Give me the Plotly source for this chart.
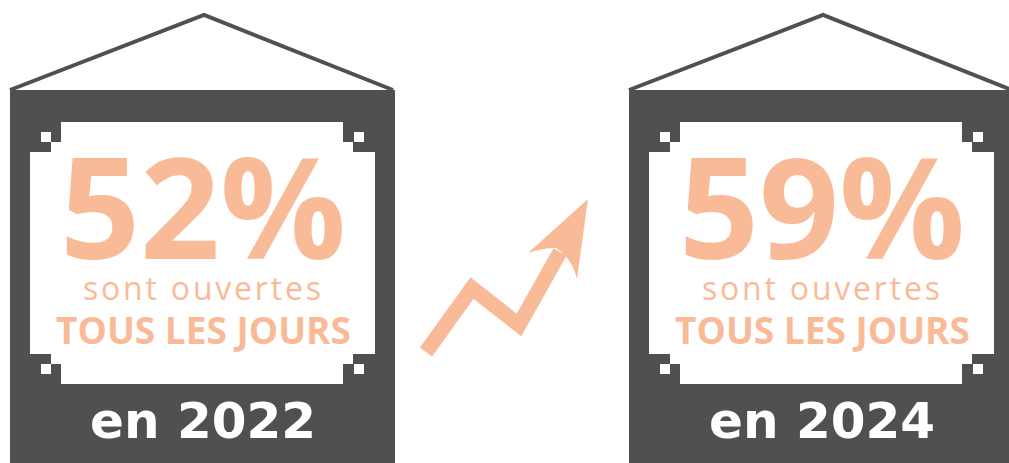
import plotly.graph_objects as go

# ---- data ----
years = [2022, 2024]
shares = [52, 59]
line1 = ["sont ouvertes", "sont ouvertes"]
line2 = ["TOUS LES JOURS", "TOUS LES JOURS"]
panel_left = [10, 629]

PEACH = "#F9BB97"
DARK = "#4F514E"

fig = go.Figure()
shapes = []
annotations = []

for L, yr, pct, t1, t2 in zip(panel_left, years, shares, line1, line2):
    # roof
    shapes.append(dict(type="path",
                       path=f"M {L} 90 L {L+194} 15 L {L+383} 90",
                       line=dict(color=DARK, width=4), fillcolor="rgba(0,0,0,0)"))
    # dark body
    shapes.append(dict(type="rect", x0=L, x1=L+385, y0=90, y1=470,
                       fillcolor=DARK, line=dict(width=0)))
    # inner white stepped panel
    p = (f"M {L+51} 122 L {L+333} 122 L {L+333} 142 L {L+343} 142 L {L+343} 152 "
         f"L {L+365} 152 L {L+365} 354 L {L+343} 354 L {L+343} 364 L {L+333} 364 "
         f"L {L+333} 384 L {L+51} 384 L {L+51} 364 L {L+41} 364 L {L+41} 354 "
         f"L {L+20} 354 L {L+20} 152 L {L+41} 152 L {L+41} 142 L {L+51} 142 Z")
    shapes.append(dict(type="path", path=p, fillcolor="white", line=dict(width=0)))
    # little corner squares
    for sx in (L+31, L+344):
        for sy in (132, 364):
            shapes.append(dict(type="rect", x0=sx, x1=sx+10, y0=sy, y1=sy+10,
                               fillcolor="white", line=dict(width=0)))
    cx = L + 193
    annotations.append(dict(x=cx, y=204, text=f"<b>{pct}%</b>", showarrow=False,
                            font=dict(family="Open Sans", size=140, color=PEACH),
                            xanchor="center", yanchor="middle"))
    annotations.append(dict(x=cx, y=287,
                            text=f"<span style='letter-spacing:2.8px'>{t1}</span>",
                            showarrow=False,
                            font=dict(family="Open Sans", size=32, color=PEACH),
                            xanchor="center", yanchor="middle"))
    annotations.append(dict(x=cx, y=329, text=f"<b>{t2}</b>", showarrow=False,
                            font=dict(family="Open Sans", size=37, color=PEACH),
                            xanchor="center", yanchor="middle"))
    annotations.append(dict(x=cx, y=421, text=f"<b>en {yr}</b>", showarrow=False,
                            font=dict(family="DejaVu Sans", size=50, color="white"),
                            xanchor="center", yanchor="middle"))

# rising arrow between the panels
shapes.append(dict(type="path", path="M 426 352 L 472 288 L 519 325 L 560 252",
                   line=dict(color=PEACH, width=15), fillcolor="rgba(0,0,0,0)"))
shapes.append(dict(type="path",
                   path="M 528 253 L 588 199 L 577 279 Q 572 258 556 248 Q 542 248 528 253 Z",
                   fillcolor=PEACH, line=dict(width=0)))

fig.update_layout(
    width=1009, height=463,
    margin=dict(l=0, r=0, t=0, b=0),
    paper_bgcolor="white", plot_bgcolor="white",
    xaxis=dict(range=[0, 1009], visible=False, fixedrange=True),
    yaxis=dict(range=[463, 0], visible=False, fixedrange=True),
    shapes=shapes, annotations=annotations, showlegend=False,
)
fig.write_html("out.html", config=dict(displayModeBar=False),
               post_script="document.body.style.margin='0';document.body.style.overflow='hidden';")
